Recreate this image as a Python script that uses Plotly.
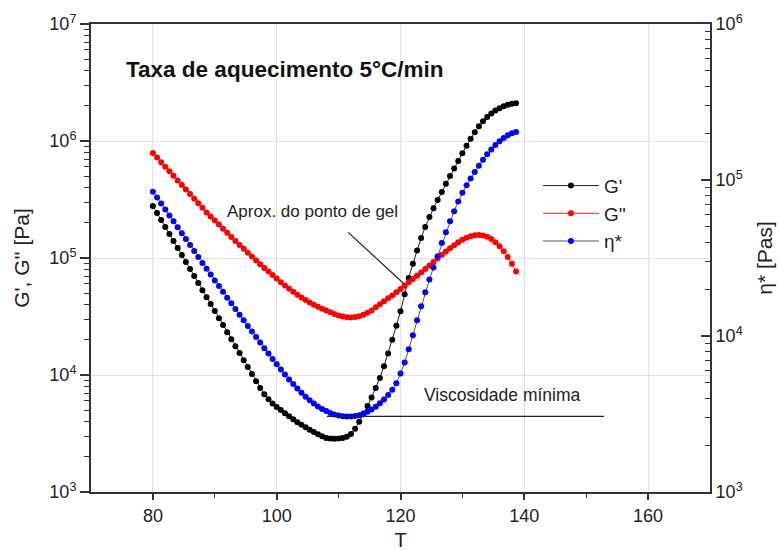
import numpy as np
import plotly.graph_objects as go

# Temperature sweep, °C (heating at 5 °C/min)
temperature = [
    80.0, 80.67, 81.33, 82.0, 82.67, 83.33, 84.0, 84.67, 85.33, 86.0,
    86.67, 87.33, 88.0, 88.67, 89.33, 90.0, 90.67, 91.33, 92.0, 92.67,
    93.33, 94.0, 94.67, 95.33, 96.0, 96.67, 97.33, 98.0, 98.67, 99.33,
    100.0, 100.67, 101.33, 102.0, 102.67, 103.33, 104.0, 104.67, 105.33, 106.0,
    106.67, 107.33, 108.0, 108.67, 109.33, 110.0, 110.67, 111.33, 112.0, 112.67,
    113.33, 114.0, 114.67, 115.33, 116.0, 116.67, 117.33, 118.0, 118.67, 119.33,
    120.0, 120.67, 121.33, 122.0, 122.67, 123.33, 124.0, 124.67, 125.33, 126.0,
    126.67, 127.33, 128.0, 128.67, 129.33, 130.0, 130.67, 131.33, 132.0, 132.67,
    133.33, 134.0, 134.67, 135.33, 136.0, 136.67, 137.33, 138.0, 138.67,
]

# Storage modulus G', Pa
g_storage = [
    278000, 242000, 211000, 184000, 160000, 140000, 122000, 106000, 92300, 80400,
    70000, 61000, 53100, 46300, 40400, 35200, 30600, 26700, 23200, 20200,
    17600, 15400, 13400, 11700, 10200, 8850, 7730, 6840, 6190, 5710,
    5330, 5010, 4700, 4430, 4180, 3950, 3760, 3570, 3400, 3250,
    3110, 2990, 2900, 2860, 2850, 2870, 2900, 2970, 3130, 3470,
    3980, 4620, 5430, 6430, 7730, 9440, 11900, 15300, 20000, 26300,
    35100, 49000, 67600, 89100, 116000, 148000, 184000, 224000, 266000, 313000,
    367000, 432000, 501000, 582000, 676000, 785000, 912000, 1047000, 1189000, 1334000,
    1472000, 1603000, 1718000, 1820000, 1905000, 1982000, 2042000, 2080000, 2099000,
]

# Loss modulus G'', Pa
g_loss = [
    789000, 721000, 659000, 603000, 551000, 504000, 460000, 421000, 385000, 352000,
    321000, 294000, 269000, 245000, 226000, 209000, 193000, 178000, 164000, 151000,
    140000, 129000, 120000, 111000, 103000, 95300, 88500, 82200, 76600, 71400,
    66700, 62100, 58100, 54600, 51400, 48500, 45900, 43700, 41700, 39900,
    38300, 36800, 35500, 34300, 33200, 32300, 31600, 31200, 31000, 31300,
    31800, 32700, 34000, 35600, 38000, 40300, 42700, 45200, 47900, 50900,
    54300, 57900, 61900, 66100, 70500, 75200, 80400, 86100, 92300, 99100,
    106400, 113800, 121300, 128800, 136100, 142900, 148600, 153100, 156300, 157400,
    156000, 152100, 145500, 136500, 125900, 114300, 101900, 89100, 76700,
]

# Complex viscosity eta*, Pa·s (right axis)
eta_complex = [
    84100, 77100, 70600, 64700, 59300, 54300, 49800, 45600, 41800, 38300,
    35100, 32100, 29400, 27000, 24800, 22700, 20900, 19200, 17600, 16200,
    14900, 13700, 12600, 11600, 10700, 9860, 9080, 8360, 7710, 7110,
    6580, 6100, 5660, 5270, 4920, 4600, 4330, 4080, 3870, 3690,
    3530, 3400, 3300, 3210, 3140, 3090, 3060, 3050, 3050, 3070,
    3110, 3180, 3270, 3380, 3520, 3700, 3920, 4190, 4530, 4980,
    5750, 6760, 8220, 10100, 12600, 15500, 19100, 23000, 27500, 32500,
    39400, 46200, 54300, 63100, 72800, 82800, 92500, 102300, 112700, 123600,
    134900, 146200, 157000, 167500, 177400, 186200, 193600, 199500, 203200,
]

x_ticks = [80, 100, 120, 140, 160]
x_minor = [90, 110, 130, 150]
left_exponents = [3, 4, 5, 6, 7]
right_exponents = [3, 4, 5, 6]

# Approximate gel point (G' = G'') and end of the minimum-viscosity guide
gel_T, gel_G = 120.6, 6.0e4
min_eta_guide_end = 153.1

FONT = "Liberation Sans, Arial, sans-serif"
AXIS_COLOR = "#333333"
GRID_COLOR = "#e2e2e2"


def power_labels(exps):
    return [10.0 ** e for e in exps], [f"10<sup>{e}</sup>" for e in exps]


def log_minor(lo, hi):
    return [m * 10.0 ** e for e in range(lo, hi) for m in range(2, 10)]


fig = go.Figure()

fig.add_trace(go.Scatter(
    x=temperature, y=g_storage, name="G'", mode="lines+markers",
    line=dict(color="#222222", width=1),
    marker=dict(color="black", size=6),
))
fig.add_trace(go.Scatter(
    x=temperature, y=g_loss, name="G''", mode="lines+markers",
    line=dict(color="#ff2020", width=1),
    marker=dict(color="#ff0000", size=6),
))
fig.add_trace(go.Scatter(
    x=temperature, y=eta_complex, name="η*", mode="lines+markers",
    yaxis="y2",
    line=dict(color="#555555", width=1),
    marker=dict(color="#0000ff", size=6),
))

lv, lt = power_labels(left_exponents)
rv, rt = power_labels(right_exponents)

fig.update_layout(
    width=780, height=551,
    margin=dict(l=91, r=70, t=24, b=59, autoexpand=False),
    paper_bgcolor="white", plot_bgcolor="white",
    font=dict(family=FONT, size=18, color="#222222"),
    legend=dict(
        x=0.722, y=0.695, xanchor="left", yanchor="top",
        font=dict(family=FONT, size=19, color="#222222"),
        bgcolor="rgba(0,0,0,0)", itemwidth=56, tracegroupgap=0,
    ),
    xaxis=dict(
        range=[70, 170], tickmode="array", tickvals=x_ticks,
        ticks="outside", ticklen=6, tickwidth=1.5, tickcolor=AXIS_COLOR,
        minor=dict(tickmode="array", tickvals=x_minor, ticks="outside",
                   ticklen=4, tickwidth=1.2, tickcolor=AXIS_COLOR),
        showgrid=True, gridcolor=GRID_COLOR, gridwidth=1,
        showline=True, linecolor=AXIS_COLOR, linewidth=2, mirror=True,
        zeroline=False, automargin=False,
        tickfont=dict(size=18),
        title=dict(text="T", font=dict(size=20), standoff=17),
    ),
    yaxis=dict(
        type="log", range=[3, 7], tickmode="array", tickvals=lv, ticktext=lt,
        ticks="outside", ticklen=9, tickwidth=1.5, tickcolor=AXIS_COLOR,
        minor=dict(tickmode="array", tickvals=log_minor(3, 7), ticks="outside",
                   ticklen=5, tickwidth=1.2, tickcolor=AXIS_COLOR),
        showgrid=True, gridcolor=GRID_COLOR, gridwidth=1,
        showline=True, linecolor=AXIS_COLOR, linewidth=2,
        zeroline=False, automargin=False,
        tickfont=dict(size=18),
        title=dict(text="G', G'' [Pa]", font=dict(size=21), standoff=14),
    ),
    yaxis2=dict(
        type="log", range=[3, 6], overlaying="y", side="right", anchor="x",
        tickmode="array", tickvals=rv, ticktext=rt,
        ticks="inside", ticklen=9, tickwidth=1.5, tickcolor=AXIS_COLOR,
        minor=dict(tickmode="array", tickvals=log_minor(3, 6), ticks="inside",
                   ticklen=5, tickwidth=1.2, tickcolor=AXIS_COLOR),
        showgrid=False,
        showline=True, linecolor=AXIS_COLOR, linewidth=2,
        zeroline=False, automargin=False,
        tickfont=dict(size=18),
        title=dict(text="η* [Pas]", font=dict(size=21), standoff=16),
    ),
)

annotations = [
    # heading inside the plot
    dict(text="<b>Taxa de aquecimento 5°C/min</b>", xref="paper", yref="paper",
         x=0.054, y=0.902, xanchor="left", yanchor="middle", showarrow=False,
         font=dict(family=FONT, size=22.5, color="#111111")),
    # gel point label and pointer
    dict(text="Aprox. do ponto de gel", xref="x", yref="y",
         x=105.8, y=np.log10(2.5e5), showarrow=False,
         font=dict(family=FONT, size=17, color="#222222")),
    dict(text="", xref="x", yref="y", x=gel_T, y=np.log10(gel_G),
         axref="x", ayref="y", ax=111.3, ay=np.log10(1.7e5),
         showarrow=True, arrowhead=0, arrowwidth=1.2, arrowcolor="#222222"),
    # minimum viscosity label and guide line
    dict(text="Viscosidade mínima", xref="x", yref="y",
         x=136.4, y=np.log10(6.75e3), showarrow=False,
         font=dict(family=FONT, size=17.5, color="#222222")),
    dict(text="", xref="x", yref="y2", x=108.1, y=np.log10(min(eta_complex)),
         axref="x", ayref="y2", ax=min_eta_guide_end, ay=np.log10(min(eta_complex)),
         showarrow=True, arrowhead=0, arrowwidth=1.2, arrowcolor="#222222"),
]
fig.update_layout(annotations=annotations)

fig.write_html("out.html")
